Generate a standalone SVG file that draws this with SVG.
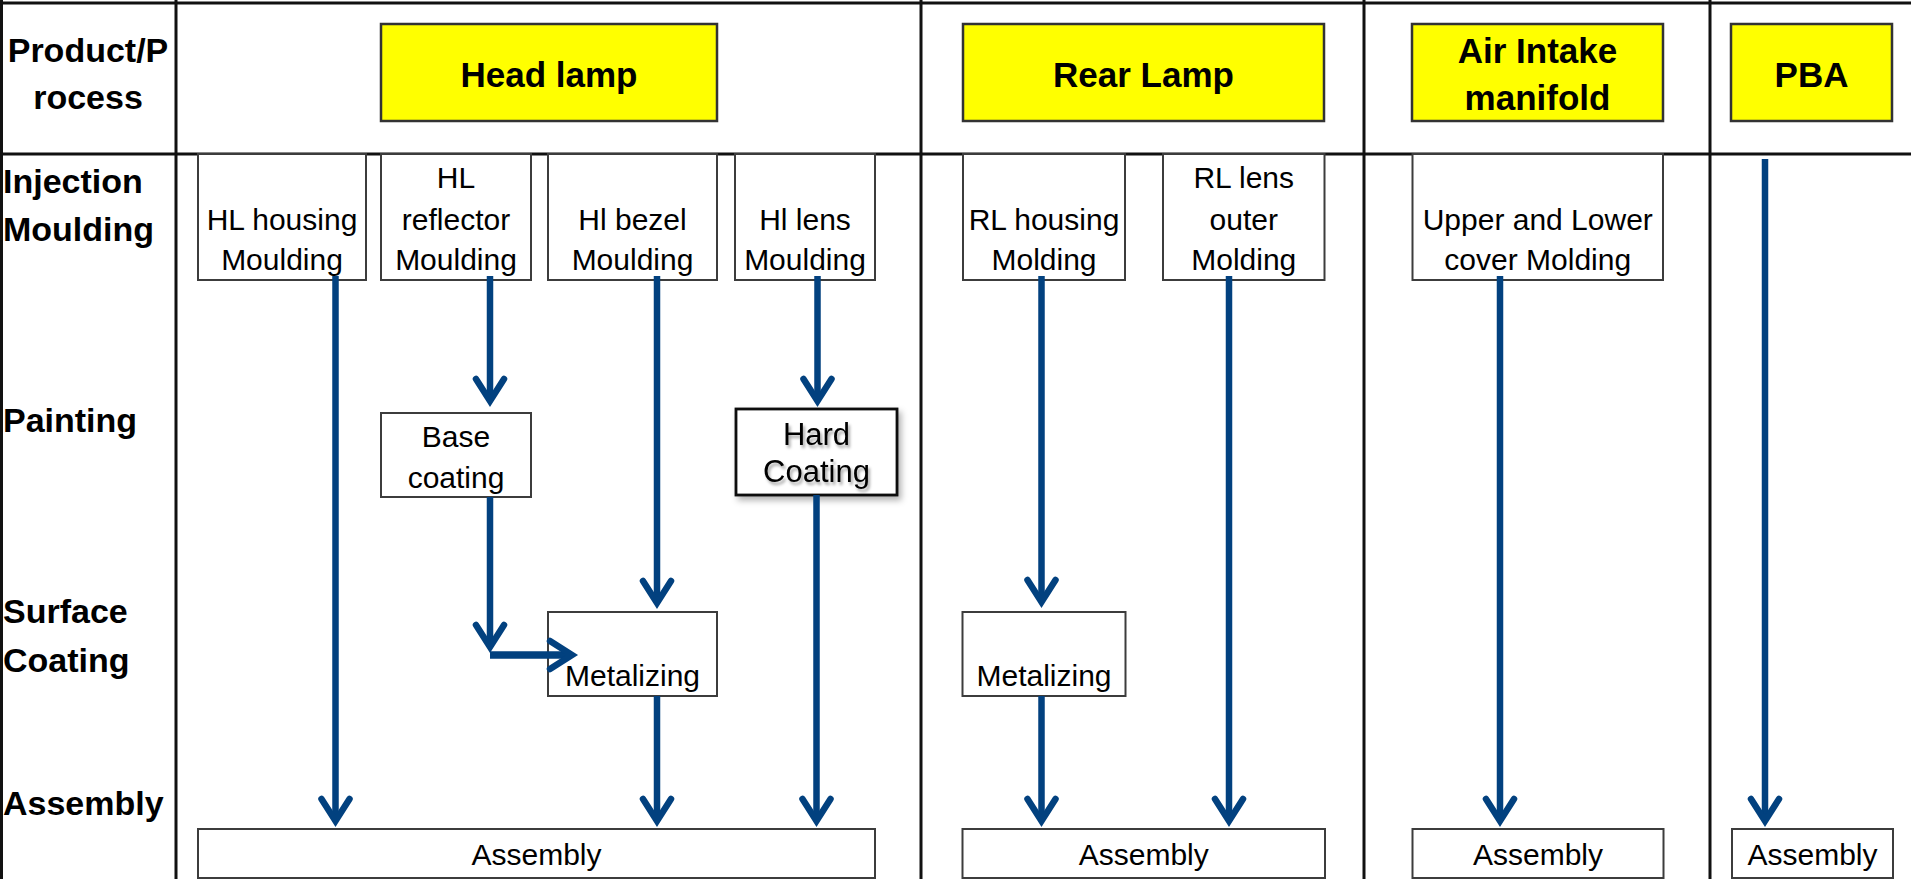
<svg xmlns="http://www.w3.org/2000/svg" width="1911" height="879" viewBox="0 0 1911 879">
  <style>
    .grid { stroke: #111; stroke-width: 3; fill: none; }
    .prod { fill: #FFFF00; stroke: #333; stroke-width: 2.5; }
    .box { fill: #fff; stroke: #3c3c3c; stroke-width: 2; }
    .hard { fill: #fff; stroke: #111; stroke-width: 2.8; }
    .bold { font-family: "Liberation Sans", Arial, sans-serif; font-weight: bold; font-size: 34px; fill: #000; }
    .hdr { font-family: "Liberation Sans", Arial, sans-serif; font-weight: bold; font-size: 35px; fill: #000; text-anchor: middle; }
    .lbl { font-family: "Liberation Sans", Arial, sans-serif; font-size: 30px; fill: #000; text-anchor: middle; }
    .lbl31 { font-family: "Liberation Sans", Arial, sans-serif; font-size: 31px; fill: #000; text-anchor: middle; }
    .flow { fill: none; stroke: #02417F; stroke-width: 6.5; marker-end: url(#ah); }
  </style>
  <defs>
    <marker id="ah" markerUnits="userSpaceOnUse" orient="auto" refX="0" refY="0" markerWidth="40" markerHeight="40" overflow="visible">
      <path d="M-22,-14 L0,0 L-22,14" fill="none" stroke="#02417F" stroke-width="6.5" stroke-linecap="round" stroke-linejoin="miter"/>
    </marker>
    <filter id="boxShadow" x="-10%" y="-10%" width="125%" height="130%">
      <feDropShadow dx="3" dy="4" stdDeviation="3" flood-color="#000" flood-opacity="0.3"/>
    </filter>
    <filter id="textShadow" x="-10%" y="-20%" width="130%" height="150%">
      <feDropShadow dx="2" dy="3" stdDeviation="1.5" flood-color="#000" flood-opacity="0.35"/>
    </filter>
  </defs>

  <rect x="0" y="0" width="1911" height="879" fill="#fff"/>

  <!-- table grid -->
  <g id="grid">
    <line class="grid" x1="0" y1="3" x2="1911" y2="3"/>
    <line class="grid" x1="0" y1="154" x2="1911" y2="154"/>
    <line class="grid" x1="1.5" y1="0" x2="1.5" y2="879"/>
    <line class="grid" x1="176" y1="0" x2="176" y2="879"/>
    <line class="grid" x1="921" y1="0" x2="921" y2="879"/>
    <line class="grid" x1="1364" y1="0" x2="1364" y2="879"/>
    <line class="grid" x1="1710" y1="0" x2="1710" y2="879"/>
  </g>

  <!-- row / column labels -->
  <g id="labels">
    <text class="bold" x="88" y="62" text-anchor="middle">Product/P</text>
    <text class="bold" x="88" y="109" text-anchor="middle">rocess</text>
    <text class="bold" x="3" y="193">Injection</text>
    <text class="bold" x="3" y="241">Moulding</text>
    <text class="bold" x="3" y="432">Painting</text>
    <text class="bold" x="3" y="623">Surface</text>
    <text class="bold" x="3" y="672">Coating</text>
    <text class="bold" x="3" y="815">Assembly</text>
  </g>

  <!-- product headers -->
  <g id="head-lamp">
    <rect class="prod" x="381" y="24" width="336" height="97"/>
    <text class="hdr" x="549" y="87">Head lamp</text>
  </g>
  <g id="rear-lamp">
    <rect class="prod" x="963" y="24" width="361" height="97"/>
    <text class="hdr" x="1143.5" y="87">Rear Lamp</text>
  </g>
  <g id="air-intake">
    <rect class="prod" x="1412" y="24" width="251" height="97"/>
    <text class="hdr" x="1537.5" y="63">Air Intake</text>
    <text class="hdr" x="1537.5" y="110">manifold</text>
  </g>
  <g id="pba">
    <rect class="prod" x="1731" y="24" width="161" height="97"/>
    <text class="hdr" x="1811.5" y="87">PBA</text>
  </g>

  <!-- head lamp process steps -->
  <g id="hl-housing">
    <rect class="box" x="198" y="154" width="168" height="126"/>
    <text class="lbl" x="282" y="230">HL housing</text>
    <text class="lbl" x="282" y="270">Moulding</text>
  </g>
  <g id="hl-reflector">
    <rect class="box" x="381" y="154" width="150" height="126"/>
    <text class="lbl" x="456" y="188">HL</text>
    <text class="lbl" x="456" y="230">reflector</text>
    <text class="lbl" x="456" y="270">Moulding</text>
  </g>
  <g id="hl-bezel">
    <rect class="box" x="548" y="154" width="169" height="126"/>
    <text class="lbl" x="632.5" y="230">Hl bezel</text>
    <text class="lbl" x="632.5" y="270">Moulding</text>
  </g>
  <g id="hl-lens">
    <rect class="box" x="735" y="154" width="140" height="126"/>
    <text class="lbl" x="805" y="230">Hl lens</text>
    <text class="lbl" x="805" y="270">Moulding</text>
  </g>
  <g id="hl-base-coating">
    <rect class="box" x="381" y="413" width="150" height="84"/>
    <text class="lbl" x="456" y="447">Base</text>
    <text class="lbl" x="456" y="488">coating</text>
  </g>
  <g id="hl-hard-coating">
    <rect class="hard" x="736" y="409" width="161" height="86" filter="url(#boxShadow)"/>
    <g filter="url(#textShadow)">
      <text class="lbl31" x="816.5" y="445">Hard</text>
      <text class="lbl31" x="816.5" y="482">Coating</text>
    </g>
  </g>
  <g id="hl-metalizing">
    <rect class="box" x="548" y="612" width="169" height="84"/>
    <text class="lbl" x="632.5" y="686">Metalizing</text>
  </g>
  <g id="hl-assembly">
    <rect class="box" x="198" y="829" width="677" height="49"/>
    <text class="lbl" x="536.5" y="865">Assembly</text>
  </g>

  <!-- rear lamp process steps -->
  <g id="rl-housing">
    <rect class="box" x="963" y="154" width="162" height="126"/>
    <text class="lbl" x="1044" y="230">RL housing</text>
    <text class="lbl" x="1044" y="270">Molding</text>
  </g>
  <g id="rl-lens-outer">
    <rect class="box" x="1163" y="154" width="161.5" height="126"/>
    <text class="lbl" x="1243.75" y="188">RL lens</text>
    <text class="lbl" x="1243.75" y="230">outer</text>
    <text class="lbl" x="1243.75" y="270">Molding</text>
  </g>
  <g id="rl-metalizing">
    <rect class="box" x="962.5" y="612" width="163" height="84"/>
    <text class="lbl" x="1044" y="686">Metalizing</text>
  </g>
  <g id="rl-assembly">
    <rect class="box" x="962.5" y="829" width="362.5" height="49"/>
    <text class="lbl" x="1143.75" y="865">Assembly</text>
  </g>

  <!-- air intake manifold process steps -->
  <g id="aim-cover">
    <rect class="box" x="1412.5" y="154" width="250.5" height="126"/>
    <text class="lbl" x="1537.75" y="230">Upper and Lower</text>
    <text class="lbl" x="1537.75" y="270">cover Molding</text>
  </g>
  <g id="aim-assembly">
    <rect class="box" x="1412.5" y="829" width="251" height="49"/>
    <text class="lbl" x="1538" y="865">Assembly</text>
  </g>

  <!-- PBA process steps -->
  <g id="pba-assembly">
    <rect class="box" x="1732" y="829" width="161" height="49"/>
    <text class="lbl" x="1812.5" y="865">Assembly</text>
  </g>

  <!-- process flow arrows -->
  <g id="connectors">
    <path class="flow" d="M335.5,276 V821"/>
    <path class="flow" d="M490,276 V401"/>
    <path class="flow" d="M490,497 V647"/>
    <path class="flow" d="M490,655 H572" style="stroke-width:7.5"/>
    <path class="flow" d="M657,276 V603"/>
    <path class="flow" d="M657,696 V821"/>
    <path class="flow" d="M817.5,276 V401"/>
    <path class="flow" d="M816.5,495 V821"/>
    <path class="flow" d="M1041.5,276 V602"/>
    <path class="flow" d="M1041.5,696 V821"/>
    <path class="flow" d="M1229,276 V821"/>
    <path class="flow" d="M1500,276 V821"/>
    <path class="flow" d="M1765,159 V821"/>
  </g>
</svg>
